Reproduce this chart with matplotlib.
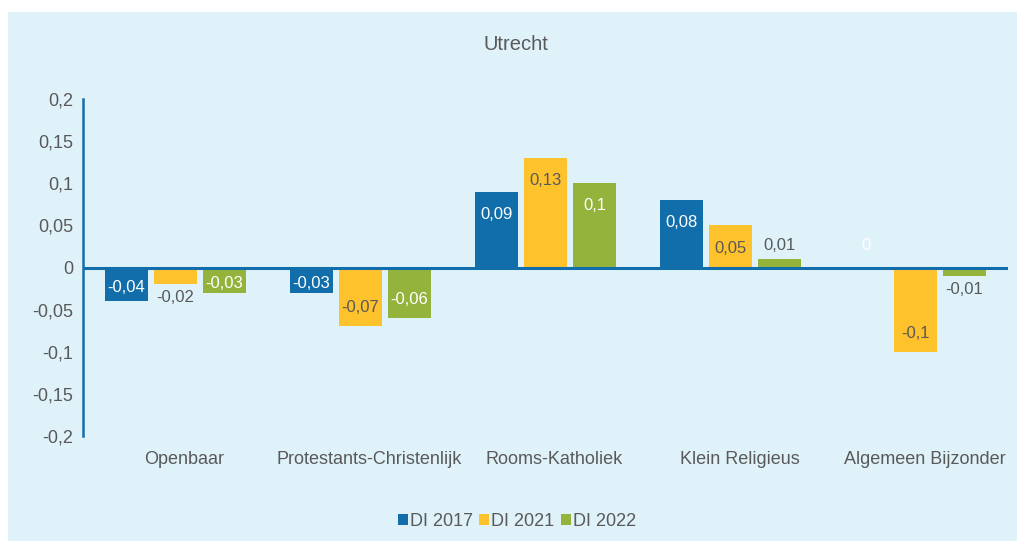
import matplotlib.pyplot as plt
import matplotlib
import numpy as np
from matplotlib.patches import Rectangle, Patch
from matplotlib.transforms import ScaledTranslation

matplotlib.rcParams['font.family'] = ['Liberation Sans', 'DejaVu Sans']

categories = ['Openbaar', 'Protestants-Christenlijk', 'Rooms-Katholiek',
              'Klein Religieus', 'Algemeen Bijzonder']
series_names = ['DI 2017', 'DI 2021', 'DI 2022']
di_2017 = [-0.04, -0.03, 0.09, 0.08, 0.0]
di_2021 = [-0.02, -0.07, 0.13, 0.05, -0.1]
di_2022 = [-0.03, -0.06, 0.10, 0.01, -0.01]
y_ticks = [-0.2, -0.15, -0.1, -0.05, 0, 0.05, 0.1, 0.15, 0.2]

colors = ['#126EAB', '#FEC22C', '#93B33C']
inside_text = ['white', '#595959', 'white']
outside_text = ['white', '#595959', '#595959']
grey = '#595959'
bg = '#DFF2FA'

W, H = 1017, 541
fig = plt.figure(figsize=(W / 100, H / 100), dpi=100)
fig.patch.set_facecolor('white')
fig.patches.append(Rectangle((8 / W, 0), 1 - 8 / W, 1 - 12 / H,
                             transform=fig.transFigure, facecolor=bg,
                             edgecolor='none', zorder=0))

ax = fig.add_axes([83 / W, (H - 436) / H, (1008 - 83) / W, (436 - 99) / H])
ax.set_facecolor('none')
ax.set_zorder(2)

x = np.arange(len(categories))
bar_w = 0.233
step = 0.265
all_series = [di_2017, di_2021, di_2022]

def fmt(v):
    s = ('%.2f' % v).rstrip('0').rstrip('.')
    if s in ('-0', ''):
        s = '0'
    return s.replace('.', ',')

for i, vals in enumerate(all_series):
    xs = x + (i - 1) * step
    ax.bar(xs, vals, width=bar_w, color=colors[i], zorder=2)
    for xi, v in zip(xs, vals):
        if abs(v) <= 0.02:
            # te klein: label buiten de balk
            yl = v + 0.016 if v >= 0 else v - 0.016
            if v == 0:
                yl = 0.026
            c = outside_text[i]
        elif v > 0:
            yl = v - 0.027
            c = inside_text[i]
        else:
            yl = min(v + 0.022, v / 2 - 0.004)
            c = inside_text[i]
        ax.text(xi, yl, fmt(v), ha='center', va='center', fontsize=12,
                color=c, zorder=3)

ax.axhline(0, color='#126EAB', lw=2.2, zorder=4)
ax.set_xlim(-0.5, len(categories) - 0.5)
ax.set_ylim(-0.2, 0.2)
ax.set_yticks(y_ticks)
ax.set_yticklabels([fmt(t) for t in y_ticks])
ax.set_xticks(x)
ax.set_xticklabels(categories)
ax.tick_params(axis='both', length=0, labelsize=13, labelcolor=grey)
ax.tick_params(axis='y', pad=7)
ax.tick_params(axis='x', pad=11)

# categorie-labels staan iets rechts van het midden van de groep
shift = ScaledTranslation(9 / 100, 0, fig.dpi_scale_trans)
for lab in ax.get_xticklabels():
    lab.set_transform(lab.get_transform() + shift)

for side in ['top', 'right', 'bottom']:
    ax.spines[side].set_visible(False)
ax.spines['left'].set_color('#126EAB')
ax.spines['left'].set_linewidth(1.8)

fig.text(516 / W, 1 - 44 / H, 'Utrecht', ha='center', va='center',
         fontsize=14.5, color=grey)

handles = [Patch(facecolor=c, edgecolor='none') for c in colors]
fig.legend(handles, series_names, loc='center', bbox_to_anchor=(517 / W, 1 - 521 / H),
           ncol=3, frameon=False, fontsize=13, labelcolor=grey,
           handlelength=0.55, handleheight=0.55, handletextpad=0.12,
           columnspacing=0.35)

fig.savefig('out.png', dpi=100, facecolor=fig.get_facecolor())
